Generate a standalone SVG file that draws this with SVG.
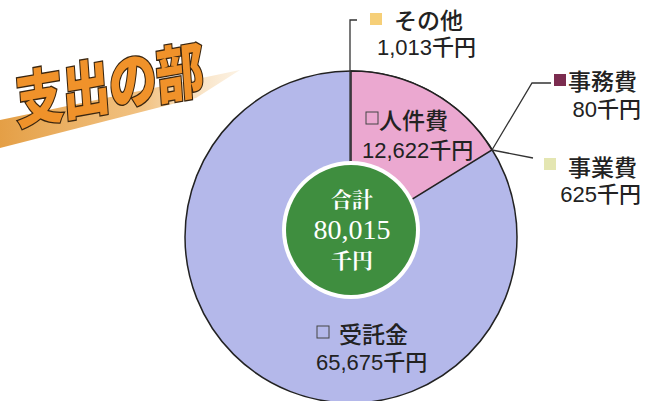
<svg xmlns="http://www.w3.org/2000/svg" width="652" height="401" viewBox="0 0 652 401">
<defs>
<linearGradient id="swoosh" x1="0" y1="0" x2="1" y2="0">
<stop offset="0" stop-color="#e39a3c" stop-opacity="0.95"/>
<stop offset="0.6" stop-color="#eeb364" stop-opacity="0.8"/>
<stop offset="1" stop-color="#f6d6a8" stop-opacity="0.3"/>
</linearGradient>
<style>
.lbl{font-family:"Liberation Sans","Noto Sans CJK JP",sans-serif;fill:#222;font-size:23px;font-weight:500}
.num{font-family:"Liberation Sans","Noto Sans CJK JP",sans-serif;fill:#222;font-size:22px;font-weight:500}
.tot{font-family:"Liberation Serif","Noto Serif CJK JP","Noto Sans CJK JP",serif;fill:#fff;text-anchor:middle}
.lead{fill:none;stroke:#333;stroke-width:1.3}
.edge{stroke:#222;stroke-width:1.5}
</style>
</defs>
<rect width="652" height="401" fill="#fff"/>
<g id="title">
<polygon points="0,120 240,70 196,98 0,148" fill="url(#swoosh)"/>
<text transform="translate(17,124) rotate(-10) skewX(-6) scale(0.97,1.22)" font-family="'Noto Sans CJK JP',sans-serif" font-weight="900" font-size="50" fill="#f0922a" stroke="#3a2610" stroke-width="2.2" paint-order="stroke" letter-spacing="-1">支出の部</text>
</g>
<g id="pie">
<circle id="slice-jutakukin" cx="351" cy="237" r="166" fill="#b4b8ea" class="edge"/>
<path id="slice-jinkenhi" d="M351,237 L351,71 A166,166 0 0 1 492,150 Z" fill="#eba8d0" class="edge"/>
</g>
<g id="connectors">
<polyline class="lead" points="357,20 350,20 350,237"/>
<polyline class="lead" points="492,150 532,83 551,83"/>
<polyline class="lead" points="492,150 533,158"/>
</g>
<g id="total">
<circle cx="351" cy="230" r="69" fill="#fff"/>
<circle cx="351" cy="230" r="65" fill="#3f8e3f"/>
<text class="tot" x="352" y="207" font-size="21" font-weight="bold">合計</text>
<text class="tot" x="352" y="239" font-size="28">80,015</text>
<text class="tot" x="352" y="268" font-size="21" font-weight="bold">千円</text>
</g>
<g id="label-sonota">
<rect x="370" y="13" width="12" height="12" fill="#f6cf78"/>
<text class="lbl" x="394" y="29">その他</text>
<text class="num" x="377" y="55">1,013千円</text>
</g>
<g id="label-jimuhi">
<rect x="554" y="74" width="12" height="12" fill="#7b2c4f"/>
<text class="lbl" x="568" y="90">事務費</text>
<text class="num" x="641" y="117" text-anchor="end">80千円</text>
</g>
<g id="label-jigyohi">
<rect x="544" y="158" width="12" height="12" fill="#e4e6b2"/>
<text class="lbl" x="568" y="176">事業費</text>
<text class="num" x="641" y="202" text-anchor="end">625千円</text>
</g>
<g id="label-jinkenhi">
<rect x="366" y="112" width="12" height="12" fill="none" stroke="#444" stroke-width="1"/>
<text class="lbl" x="379" y="129">人件費</text>
<text class="num" x="362" y="158">12,622千円</text>
</g>
<g id="label-jutakukin">
<rect x="317" y="326" width="12" height="12" fill="none" stroke="#444" stroke-width="1"/>
<text class="lbl" x="339" y="343">受託金</text>
<text class="num" x="316" y="370">65,675千円</text>
</g>
</svg>
